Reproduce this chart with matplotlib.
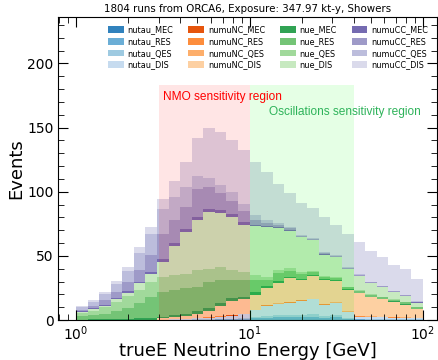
import numpy as np
import matplotlib.pyplot as plt
from matplotlib.ticker import MultipleLocator

# 30 log-spaced energy bins, 1 - 100 GeV
edges = np.logspace(0, 2, 31)
centers = np.sqrt(edges[:-1] * edges[1:])

# events per bin
nutau_MEC = [0, 0, 0, 0, 0, 0, 0, 0, 0, 0, 0, 0, 0, 0.1, 0.1,
             0.1, 0.2, 0.2, 0.2, 0.2, 0.2, 0.2, 0.2, 0.1, 0.1, 0, 0, 0, 0, 0]
nutau_RES = [0, 0, 0, 0, 0, 0, 0, 0.05, 0.1, 0.1, 0.2, 0.3, 0.4, 0.5, 0.7,
             1.1, 1.6, 1.8, 1.9, 2.1, 2.2, 1.7, 1.8, 0.9, 0.4, 0.3, 0.3, 0.3, 0.2, 0.2]
nutau_QES = [0, 0, 0, 0, 0, 0, 0.05, 0.1, 0.1, 0.2, 0.2, 0.3, 0.4, 0.5, 0.6,
             1.0, 1.4, 1.6, 1.7, 1.9, 2.0, 1.5, 1.6, 0.8, 0.3, 0.3, 0.3, 0.2, 0.2, 0.2]
nutau_DIS = [0, 0, 0, 0, 0, 0, 0.05, 0.15, 0.3, 0.5, 0.8, 1.2, 1.7, 2.4, 3.1,
             5.3, 7.8, 8.9, 9.7, 10.8, 11.6, 8.6, 9.4, 4.2, 1.7, 1.6, 1.4, 1.2, 1.1, 0.8]

numuNC_MEC = [0, 0, 0, 0, 0, 0, 0, 0, 0, 0, 0, 0.05, 0.05, 0.05, 0.05,
              0.05, 0.05, 0.05, 0.05, 0.05, 0.05, 0.05, 0.05, 0.05, 0.05, 0.05, 0.05, 0.05, 0.05, 0.05]
numuNC_RES = [0, 0, 0, 0, 0, 0, 0, 0, 0.1, 0.1, 0.1, 0.2, 0.2, 0.3, 0.3,
              0.3, 0.3, 0.3, 0.4, 0.3, 0.4, 0.4, 0.3, 0.3, 0.3, 0.3, 0.3, 0.2, 0.2, 0.1]
numuNC_QES = [0, 0, 0, 0, 0, 0, 0, 0, 0, 0.1, 0.1, 0.1, 0.2, 0.2, 0.2,
              0.2, 0.2, 0.3, 0.3, 0.2, 0.3, 0.3, 0.3, 0.3, 0.3, 0.2, 0.2, 0.2, 0.2, 0.1]
numuNC_DIS = [0, 0, 0, 0, 0, 0.1, 0.2, 0.9, 1.4, 2.0, 3.6, 4.9, 8.1, 11.0, 11.0,
              11.4, 13.1, 15.4, 18.2, 15.5, 17.8, 18.3, 16.4, 16.7, 17.6, 14.8, 13.5, 11.9, 10.1, 7.1]

nue_MEC = [0.3, 0.4, 0.5, 0.7, 0.9, 1.1, 1.5, 1.5, 1.6, 1.7, 1.8, 2.0, 2.0, 2.0, 2.0,
           2.0, 1.5, 1.5, 1.2, 1.1, 0.8, 0.7, 0.8, 0.6, 0.6, 0.6, 0.5, 0.5, 0.5, 0.4]
nue_RES = [2.5, 3.4, 4.5, 6.5, 8.6, 12.0, 16.1, 19.3, 19.7, 19.9, 19.1, 20.8, 18.1, 14.1, 13.0,
           9.6, 5.0, 6.4, 4.8, 4.0, 2.0, 1.7, 2.0, 1.5, 1.2, 1.4, 1.1, 1.1, 1.1, 0.8]
nue_QES = [2.6, 3.6, 4.8, 7.0, 9.0, 10.2, 11.6, 11.2, 11.7, 11.2, 13.1, 10.2, 10.4, 7.9, 6.0,
           4.0, 2.1, 2.5, 1.8, 1.5, 0.7, 0.6, 0.7, 0.6, 0.5, 0.5, 0.4, 0.4, 0.4, 0.3]
nue_DIS = [0.6, 0.9, 1.1, 1.8, 2.8, 5.2, 6.3, 12.2, 22.5, 32.9, 39.0, 44.0, 41.5, 41.0, 37.0,
           38.1, 39.4, 32.4, 29.3, 26.7, 24.0, 16.5, 15.2, 13.4, 11.2, 8.5, 7.4, 5.5, 4.5, 3.5]

numuCC_MEC = [0.8, 0.8, 1.1, 1.1, 1.2, 1.2, 2.0, 2.3, 2.6, 2.5, 2.4, 2.4, 2.4, 2.4, 2.4,
              1.2, 1.0, 0.9, 0.7, 0.5, 0.5, 0.6, 0.5, 0.5, 0.4, 0.3, 0.3, 0.3, 0.3, 0.3]
numuCC_RES = [1.0, 1.8, 3.5, 4.9, 7.3, 9.2, 12.7, 19.7, 17.9, 16.8, 21.6, 17.6, 13.6, 10.6, 8.6,
              3.8, 2.3, 1.8, 1.3, 0.9, 0.9, 1.1, 0.8, 0.9, 0.7, 0.6, 0.5, 0.4, 0.4, 0.4]
numuCC_QES = [2.1, 3.4, 4.7, 6.0, 8.6, 12.9, 16.9, 19.4, 18.0, 16.0, 10.0, 7.0, 6.0, 7.0, 5.0,
              4.0, 2.2, 1.6, 1.0, 0.6, 0.6, 0.8, 0.5, 0.6, 0.4, 0.4, 0.3, 0.3, 0.3, 0.2]
numuCC_DIS = [1.3, 1.2, 1.8, 2.5, 3.1, 4.7, 5.2, 7.8, 12.0, 19.0, 30.0, 39.0, 41.5, 40.5, 42.7,
              41.0, 37.2, 30.4, 26.5, 25.2, 23.0, 27.0, 23.5, 25.6, 25.3, 24.2, 22.5, 20.5, 20.5, 17.6]

weights = [nutau_MEC, nutau_RES, nutau_QES, nutau_DIS,
           numuNC_MEC, numuNC_RES, numuNC_QES, numuNC_DIS,
           nue_MEC, nue_RES, nue_QES, nue_DIS,
           numuCC_MEC, numuCC_RES, numuCC_QES, numuCC_DIS]
labels = ['nutau_MEC', 'nutau_RES', 'nutau_QES', 'nutau_DIS',
          'numuNC_MEC', 'numuNC_RES', 'numuNC_QES', 'numuNC_DIS',
          'nue_MEC', 'nue_RES', 'nue_QES', 'nue_DIS',
          'numuCC_MEC', 'numuCC_RES', 'numuCC_QES', 'numuCC_DIS']
colors = list(plt.cm.tab20c.colors[:16])

fig = plt.figure(figsize=(4.39, 3.6), dpi=100)
ax = fig.add_axes([58.3 / 439, 40 / 360, 378.4 / 439, 302.7 / 360])

n, b, patches = ax.hist([centers] * 16, bins=edges, weights=weights, stacked=True,
                        histtype='stepfilled', color=colors, label=labels, lw=0)

# sensitivity regions
ax.axvspan(3, 10, ymax=0.776, color='red', alpha=0.1, lw=0, zorder=3)
ax.axvspan(10, 40, ymax=0.776, color='lime', alpha=0.1, lw=0, zorder=3)
ax.text(3.16, 173.5, 'NMO sensitivity region', color='red', fontsize=8.6,
        family='Liberation Sans', va='center', zorder=4)
ax.text(13.0, 161.8, 'Oscillations sensitivity region', color='#2eb35a', fontsize=8.6,
        family='Liberation Sans', va='center', zorder=4)

ax.set_xscale('log')
ax.set_xlim(0.79, 120)
ax.set_ylim(0, 236)
ax.yaxis.set_minor_locator(MultipleLocator(10))
ax.tick_params(which='both', direction='in', top=True, right=True, labelsize=10)
ax.tick_params(which='major', length=7)
ax.tick_params(which='minor', length=4)

ax.set_xlabel('trueE Neutrino Energy [GeV]', fontsize=13, labelpad=-1)
ax.set_ylabel('Events', fontsize=13, labelpad=1)
fig.text(247.5 / 439, 1 - 9.5 / 360, '1804 runs from ORCA6, Exposure: 347.97 kt-y, Showers',
         ha='center', va='center', fontsize=7.4)

handles = [p[0] for p in patches]
leg = ax.legend(handles, labels, ncol=4, frameon=False, fontsize=5.9, loc='upper left',
                bbox_to_anchor=(0.112, 0.997), handlelength=1.9, handleheight=0.9,
                handletextpad=0.5, columnspacing=1.8, labelspacing=0.32, borderpad=0.4)
leg.set_zorder(5)

fig.savefig('out.png', dpi=100)
